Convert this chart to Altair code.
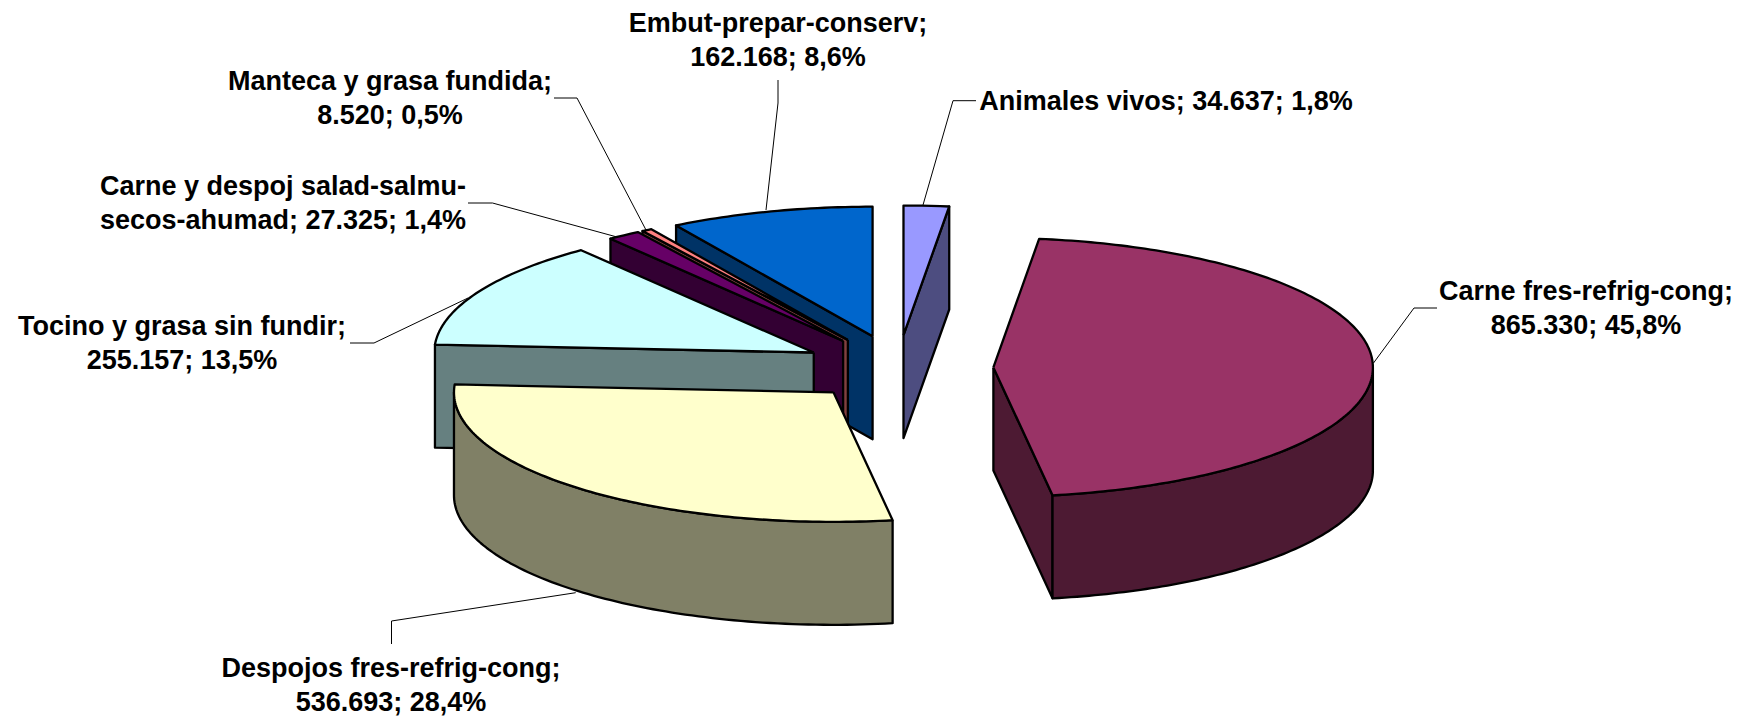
import numpy as np
import pandas as pd
import altair as alt

# ---- chart values ----
names = ["Animales vivos", "Carne fres-refrig-cong", "Despojos fres-refrig-cong",
         "Tocino y grasa sin fundir", "Carne y despoj salad-salmu-secos-ahumad",
         "Manteca y grasa fundida", "Embut-prepar-conserv"]
values = [34637, 865330, 536693, 255157, 27325, 8520, 162168]
top_colors = ["#9999FF", "#993366", "#FFFFCC", "#CCFFFF", "#660066", "#FF8080", "#0066CC"]
side_colors = ["#4D4D80", "#4D1A33", "#808066", "#668080", "#330033", "#804040", "#003366"]
label_lines = [
    ["Animales vivos; 34.637; 1,8%"],
    ["Carne fres-refrig-cong;", "865.330; 45,8%"],
    ["Despojos fres-refrig-cong;", "536.693; 28,4%"],
    ["Tocino y grasa sin fundir;", "255.157; 13,5%"],
    ["Carne y despoj salad-salmu-", "secos-ahumad; 27.325; 1,4%"],
    ["Manteca y grasa fundida;", "8.520; 0,5%"],
    ["Embut-prepar-conserv;", "162.168; 8,6%"],
]

# ---- layout (page pixels) ----
CX, CY = 898.0, 368.0      # pie centre
A, B = 379.5, 129.5        # ellipse radii
EX, EY = 95.4, 33.0        # explosion
DEPTH = 103.0
WARP = np.radians(1.5)     # slight 3D perspective on the angles
draw_order = [6, 5, 4, 3, 0, 1, 2]
label_anchor = [(1166, 110), (1586, 300), (391, 677), (182, 335), (283, 195), (390, 90), (778, 32)]
LINE_GAP = 34.3
leaders = [
    [(976, 100.7), (953, 100.7), (923, 205)],
    [(1437, 308), (1414, 308), (1373.5, 363)],
    [(391.5, 644), (391.5, 621), (575.7, 592.7)],
    [(350, 343), (374, 343), (468, 298)],
    [(468, 203), (492.5, 203), (617, 237)],
    [(554, 98), (577, 98), (646, 230)],
    [(778, 80), (778, 103), (766, 210)],
]

# ---- geometry derived from the values ----
vals = np.array(values, dtype=float)
edges = np.concatenate([[0.0], np.cumsum(vals) / vals.sum() * 2 * np.pi])


def rim(ax, ay, t):
    t = t + WARP * np.sin(2 * t) * np.cos(2 * t) ** 2
    return ax + A * np.sin(t), ay - B * np.cos(t)


rows = []
pid = 0


def add_poly(xs, ys, color):
    global pid
    xs, ys = list(xs) + [xs[0]], list(ys) + [ys[0]]
    for k, (x, y) in enumerate(zip(xs, ys)):
        rows.append({"piece": f"p{pid:03d}", "k": k, "x": float(x), "y": float(y), "color": color})
    pid += 1


for i in draw_order:
    t0, t1 = edges[i], edges[i + 1]
    mid = (t0 + t1) / 2
    ax, ay = CX + EX * np.sin(mid), CY - EY * np.cos(mid)
    # radial walls, only those facing the viewer
    if np.sin(t0) < -1e-9:
        rx, ry = rim(ax, ay, t0)
        add_poly([ax, rx, rx, ax], [ay, ry, ry + DEPTH, ay + DEPTH], side_colors[i])
    if np.sin(t1) > 1e-9:
        rx, ry = rim(ax, ay, t1)
        add_poly([ax, rx, rx, ax], [ay, ry, ry + DEPTH, ay + DEPTH], side_colors[i])
    # outer curved wall, front half only
    lo, hi = max(t0, np.pi / 2), min(t1, 3 * np.pi / 2)
    if hi > lo:
        ts = np.linspace(lo, hi, 90)
        rx, ry = rim(ax, ay, ts)
        add_poly(list(rx) + list(rx[::-1]), list(ry) + list(ry[::-1] + DEPTH), side_colors[i])
    # top face
    ts = np.linspace(t0, t1, max(4, int((t1 - t0) * 60)))
    rx, ry = rim(ax, ay, ts)
    add_poly([ax] + list(rx), [ay] + list(ry), top_colors[i])

poly_df = pd.DataFrame(rows)

lead_df = pd.DataFrame([
    {"lead": i, "k": k, "x": p[0], "y": p[1]}
    for i, pts in enumerate(leaders) for k, p in enumerate(pts)
])

text_df = pd.DataFrame([
    {"x": label_anchor[i][0], "y": label_anchor[i][1] + j * LINE_GAP, "t": line}
    for i, lines in enumerate(label_lines) for j, line in enumerate(lines)
])

xs = alt.X("x:Q", scale=alt.Scale(domain=[8, 1742], nice=False, zero=False), axis=None)
ys = alt.Y("y:Q", scale=alt.Scale(domain=[716, 8], nice=False, zero=False), axis=None)

slices = alt.Chart(poly_df).mark_line(
    stroke="black", strokeWidth=2.3, strokeJoin="round", interpolate="linear", clip=False
).encode(
    x=xs, y=ys,
    fill=alt.Fill("color:N", scale=None),
    detail="piece:N",
    order="k:Q",
)

lead = alt.Chart(lead_df).mark_line(stroke="black", strokeWidth=1).encode(
    x=xs, y=ys, detail="lead:N", order="k:Q"
)

text = alt.Chart(text_df).mark_text(
    font="Liberation Sans", fontWeight="bold", fontSize=27, align="center",
    baseline="alphabetic", color="black"
).encode(x=xs, y=ys, text="t:N")

chart = alt.layer(lead, slices, text).properties(
    width=1734, height=708, padding=0,
    autosize=alt.AutoSizeParams(type="none"),
    background="white",
).configure_view(stroke=None)

chart.save("out.html", embed_options={"renderer": "svg", "actions": False})
